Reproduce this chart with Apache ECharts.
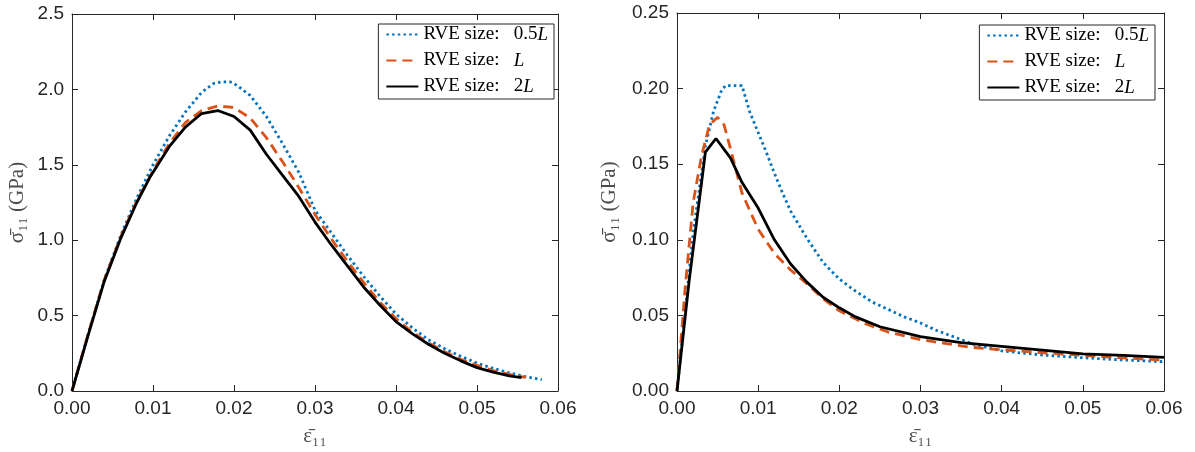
<!DOCTYPE html>
<html><head><meta charset="utf-8">
<script src="https://cdn.jsdelivr.net/npm/echarts@6/dist/echarts.min.js"></script>
<style>html,body{margin:0;padding:0;background:#fff}#c{width:1195px;height:452px}</style>
</head><body><div id="c"></div>
<script>
const seriesNames = ['RVE size: 0.5L', 'RVE size: L', 'RVE size: 2L'];
const xTickLabels = ['0.00', '0.01', '0.02', '0.03', '0.04', '0.05', '0.06'];
const leftYTickLabels = ['0.0', '0.5', '1.0', '1.5', '2.0', '2.5'];
const rightYTickLabels = ['0.00', '0.05', '0.10', '0.15', '0.20', '0.25'];

// Left panel
const left05L = [[0,0],[0.002,0.38],[0.004,0.74],[0.006,1.03],[0.008,1.28],[0.010,1.50],[0.012,1.69],[0.014,1.85],[0.016,1.98],[0.0175,2.04],[0.0185,2.05],[0.0195,2.05],[0.020,2.04],[0.022,1.96],[0.024,1.82],[0.026,1.64],[0.028,1.45],[0.030,1.20],[0.032,1.05],[0.034,0.90],[0.036,0.76],[0.038,0.63],[0.040,0.51],[0.042,0.42],[0.044,0.34],[0.046,0.28],[0.048,0.23],[0.050,0.185],[0.052,0.15],[0.054,0.12],[0.056,0.095],[0.058,0.075]];
const left1L = [[0,0],[0.002,0.38],[0.004,0.74],[0.006,1.02],[0.008,1.26],[0.010,1.46],[0.012,1.64],[0.014,1.78],[0.016,1.86],[0.018,1.89],[0.020,1.88],[0.022,1.81],[0.024,1.68],[0.026,1.52],[0.028,1.35],[0.030,1.17],[0.032,1.01],[0.034,0.86],[0.036,0.72],[0.038,0.59],[0.040,0.48],[0.042,0.39],[0.044,0.32],[0.046,0.26],[0.048,0.21],[0.050,0.17],[0.052,0.135],[0.054,0.11],[0.056,0.09]];
const left2L = [[0,0],[0.002,0.37],[0.004,0.73],[0.006,1.01],[0.008,1.25],[0.0096,1.415],[0.012,1.62],[0.014,1.75],[0.016,1.84],[0.018,1.86],[0.020,1.82],[0.022,1.73],[0.024,1.57],[0.026,1.43],[0.028,1.29],[0.030,1.12],[0.032,0.97],[0.034,0.83],[0.036,0.69],[0.038,0.57],[0.040,0.46],[0.042,0.38],[0.044,0.31],[0.046,0.25],[0.048,0.20],[0.050,0.155],[0.052,0.125],[0.054,0.10],[0.0555,0.088]];

// Right panel
const right05L = [[0,0],[0.002,0.105],[0.0035,0.162],[0.0045,0.185],[0.0055,0.199],[0.006,0.202],[0.008,0.202],[0.009,0.184],[0.010,0.171],[0.011,0.158],[0.012,0.144],[0.013,0.131],[0.014,0.119],[0.016,0.101],[0.018,0.085],[0.020,0.074],[0.022,0.066],[0.024,0.059],[0.026,0.054],[0.028,0.049],[0.030,0.045],[0.032,0.040],[0.035,0.034],[0.0365,0.031],[0.040,0.0265],[0.045,0.0238],[0.050,0.022],[0.055,0.0205],[0.060,0.0194]];
const right1L = [[0,0],[0.001,0.068],[0.002,0.125],[0.003,0.155],[0.004,0.176],[0.005,0.181],[0.0058,0.176],[0.0066,0.160],[0.008,0.131],[0.010,0.107],[0.012,0.091],[0.014,0.080],[0.016,0.071],[0.018,0.061],[0.020,0.053],[0.023,0.045],[0.026,0.039],[0.030,0.034],[0.033,0.0315],[0.036,0.029],[0.040,0.0273],[0.045,0.0253],[0.050,0.0236],[0.055,0.0219],[0.060,0.0204]];
const right2L = [[0,0],[0.0015,0.073],[0.0035,0.158],[0.0048,0.167],[0.0066,0.154],[0.008,0.138],[0.010,0.121],[0.012,0.100],[0.014,0.084],[0.016,0.072],[0.018,0.062],[0.020,0.055],[0.022,0.049],[0.025,0.0425],[0.030,0.036],[0.035,0.032],[0.040,0.0295],[0.045,0.027],[0.050,0.0245],[0.055,0.0235],[0.060,0.0223]];

const colors = ['#0072BD', '#D95319', '#000000'];
const lineTypes = [[2.5, 3.2], [10, 6], 'solid'];
const axisColor = '#262626';
const tickFont = {fontFamily: 'Liberation Sans, Arial, sans-serif', fontSize: 19, color: axisColor};
const nameFont = {fontFamily: 'Liberation Serif, DejaVu Serif, serif', fontSize: 21, color: '#4d4d4d'};
const legendFontFamily = 'Liberation Serif, serif';

function xAxes(g, name) {
  const base = {type: 'value', gridIndex: g, min: 0, max: 0.06, interval: 0.01,
    splitLine: {show: false},
    axisLine: {show: true, onZero: false, lineStyle: {color: axisColor, width: 1}},
    axisTick: {show: true, inside: true, length: 6, lineStyle: {color: axisColor}}};
  return [
    Object.assign({}, base, {position: 'bottom',
      axisLabel: Object.assign({margin: 8, formatter: v => xTickLabels[Math.round(v / 0.01)]}, tickFont),
      name: name, nameLocation: 'middle', nameGap: 35, nameTextStyle: nameFont}),
    Object.assign({}, base, {position: 'top', axisLabel: {show: false}})
  ];
}
function yAxes(g, max, interval, labels, name, gap) {
  const base = {type: 'value', gridIndex: g, min: 0, max: max, interval: interval,
    splitLine: {show: false},
    axisLine: {show: true, onZero: false, lineStyle: {color: axisColor, width: 1}},
    axisTick: {show: true, inside: true, length: 6, lineStyle: {color: axisColor}}};
  return [
    Object.assign({}, base, {position: 'left',
      axisLabel: Object.assign({margin: 8, formatter: v => labels[Math.round(v / interval)]}, tickFont),
      name: name, nameLocation: 'middle', nameGap: gap, nameRotate: 90, nameTextStyle: nameFont}),
    Object.assign({}, base, {position: 'right', axisLabel: {show: false}})
  ];
}
function mkSeries(data, i, xi, yi) {
  return {type: 'line', name: seriesNames[i], xAxisIndex: xi, yAxisIndex: yi, data: data,
    showSymbol: false, symbol: 'none', smooth: false, animation: false,
    lineStyle: {color: colors[i], width: 2.8, type: lineTypes[i]}, itemStyle: {color: colors[i]}, z: 2 + i};
}
function legend(right, top) {
  return {orient: 'vertical', right: right, top: top, data: seriesNames,
    itemWidth: 32, itemHeight: 17, itemGap: 7, padding: [1, 6, 3, 7],
    borderColor: '#262626', borderWidth: 1, backgroundColor: '#fff', selectedMode: false,
    itemStyle: {opacity: 0},
    formatter: n => n.replace(/^RVE size: /, 'RVE size:\u2002 ').replace(/L$/, '{i|L}'),
    textStyle: {fontFamily: legendFontFamily, fontSize: 19, color: '#000',
      rich: {i: {fontFamily: legendFontFamily, fontStyle: 'italic', fontSize: 19, color: '#000'}}}};
}

const xName = '\u03B5\u0304\u2081\u2081';
const yName = '\u03C3\u0304\u2081\u2081 (GPa)';

const option = {
  backgroundColor: '#fff',
  animation: false,
  grid: [
    {left: 72, top: 14, right: 637, bottom: 60},
    {left: 677, top: 13, right: 31, bottom: 61}
  ],
  xAxis: [].concat(xAxes(0, xName), xAxes(1, xName)),
  yAxis: [].concat(yAxes(0, 2.5, 0.5, leftYTickLabels, yName, 44), yAxes(1, 0.25, 0.05, rightYTickLabels, yName, 57)),
  legend: [legend(641, 24), legend(40, 25)],
  series: [
    mkSeries(left05L, 0, 0, 0), mkSeries(left1L, 1, 0, 0), mkSeries(left2L, 2, 0, 0),
    mkSeries(right05L, 0, 2, 2), mkSeries(right1L, 1, 2, 2), mkSeries(right2L, 2, 2, 2)
  ]
};
const chart = echarts.init(document.getElementById('c'), null, {renderer: 'canvas'});
chart.setOption(option);
</script></body></html>
